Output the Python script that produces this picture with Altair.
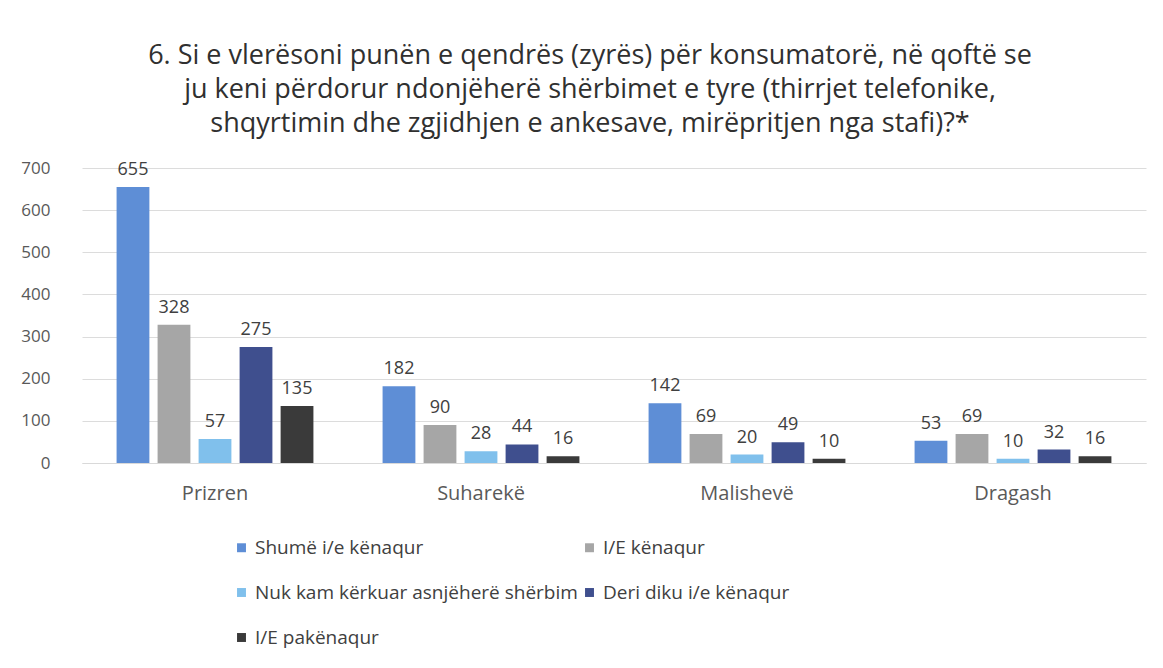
import altair as alt
import pandas as pd

categories = ["Prizren", "Suharekë", "Malishevë", "Dragash"]
series = ["Shumë i/e kënaqur", "I/E kënaqur", "Nuk kam kërkuar asnjëherë shërbim",
          "Deri diku i/e kënaqur", "I/E pakënaqur"]
shume = [655, 182, 142, 53]
kenaqur = [328, 90, 69, 69]
nuk_kam = [57, 28, 20, 10]
deri_diku = [275, 44, 49, 32]
pakenaqur = [135, 16, 10, 16]
colors = ["#5E8ED6", "#A6A6A6", "#80C0EC", "#3F4F8E", "#3A3A3A"]

values = [shume, kenaqur, nuk_kam, deri_diku, pakenaqur]
rows = []
for s, vals in zip(series, values):
    for c, v in zip(categories, vals):
        rows.append({"Komuna": c, "Seria": s, "Vlera": v})
df = pd.DataFrame(rows)

FONT = "Open Sans"

x = alt.X("Komuna:N", sort=categories, title=None,
          scale=alt.Scale(paddingInner=0.26, paddingOuter=0.13),
          axis=alt.Axis(labelAngle=0, ticks=False, domainColor="#d9d9d9",
                        labelFontSize=20, labelColor="#595959", labelPadding=20,
                        labelFont=FONT))
xo = alt.XOffset("Seria:N", sort=series, scale=alt.Scale(paddingInner=0.2))
y = alt.Y("Vlera:Q", title=None,
          scale=alt.Scale(domain=[0, 700], nice=False),
          axis=alt.Axis(values=list(range(0, 701, 100)), domain=False, ticks=False,
                        gridColor="#dcdcdc", labelFontSize=17, labelColor="#595959",
                        labelPadding=32, labelFont=FONT))

bars = alt.Chart(df).mark_bar().encode(
    x=x, xOffset=xo, y=y,
    color=alt.Color("Seria:N", sort=series,
                    scale=alt.Scale(domain=series, range=colors),
                    legend=alt.Legend(title=None, orient="none", legendX=150, legendY=370,
                                      direction="horizontal",
                                      columns=2, symbolType="square", symbolSize=80,
                                      symbolStrokeWidth=0, labelFontSize=19,
                                      labelColor="#404040", labelFont=FONT,
                                      rowPadding=25, columnPadding=2, labelOffset=4,
                                      labelLimit=500)),
)

labels = alt.Chart(df).mark_text(baseline="bottom", dy=-8, fontSize=18,
                                 color="#404040", font=FONT).encode(
    x=x, xOffset=xo, y=y, text="Vlera:Q"
)

chart = alt.layer(bars, labels).properties(
    width=1064, height=295,
    autosize=alt.AutoSizeParams(type="none"),
    padding={"left": 74, "top": 160, "right": 9, "bottom": 185},
    title=alt.TitleParams(
        text=["6. Si e vlerësoni punën e qendrës (zyrës) për konsumatorë, në qoftë se",
              "ju keni përdorur ndonjëherë shërbimet e tyre (thirrjet telefonike,",
              "shqyrtimin dhe zgjidhjen e ankesave, mirëpritjen nga stafi)?*"],
        fontSize=27, font=FONT, fontWeight="normal", color="#303030",
        anchor="middle", dx=-24, offset=21, lineHeight=34,
    ),
).configure_view(stroke=None)

chart.save("out.html", embed_options={"renderer": "svg", "actions": False})
